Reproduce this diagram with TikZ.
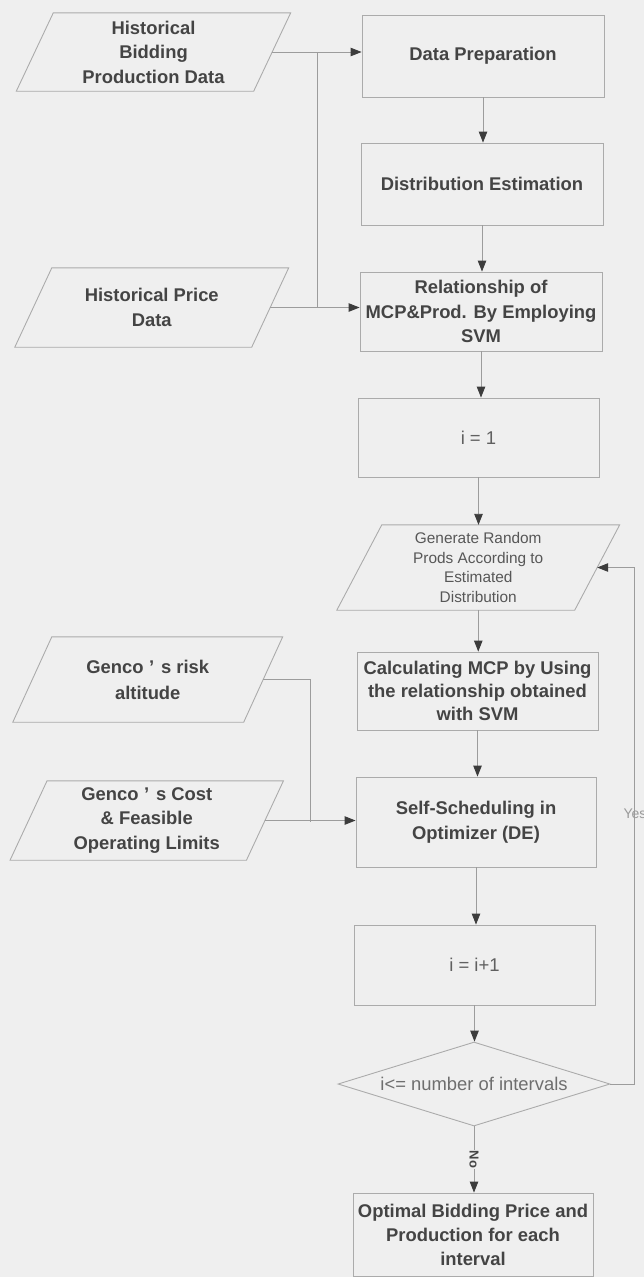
\documentclass[tikz,border=0pt]{standalone}
\usepackage{fontspec}
\setmainfont{Liberation Sans}
\usetikzlibrary{arrows.meta,shapes.geometric,calc}

\definecolor{paper}{HTML}{EFEFEF}
\definecolor{boxc}{HTML}{ABABAB}
\definecolor{linec}{HTML}{9C9C9C}
\definecolor{tipc}{HTML}{3C3C3C}
\definecolor{txt}{HTML}{444444}
\definecolor{softtxt}{HTML}{6E6E6E}
\definecolor{yesc}{HTML}{9A9A9A}

% outline of a slanted input box around a named rectangle node
\newcommand\slantbox[2]{%
  \draw[boxline] ($(#1.north west)+(#2,0)$) -- ($(#1.north east)+(#2,0)$)
    -- ($(#1.south east)-(#2,0)$) -- ($(#1.south west)-(#2,0)$) -- cycle;}

% full-width apostrophe
\newcommand\fwq{\makebox[0.95em][l]{\hspace{0.3em}’}}

\begin{document}
\begin{tikzpicture}[x=1pt,y=-1pt,
  boxline/.style={draw=boxc, line width=0.9pt},
  mainfont/.style={font=\bfseries\fontsize{18.4}{24.5}\selectfont, text=txt},
  box/.style={rectangle, boxline, inner sep=0pt, align=center, mainfont},
  slanted/.style={rectangle, draw=none, inner sep=0pt, align=center, mainfont},
  conn/.style={draw=linec, line width=0.9pt},
  >={Triangle[length=11pt,width=8.5pt,color=tipc]}]

\fill[paper] (0,0) rectangle (644,1277);
\useasboundingbox (0,0) rectangle (644,1277);

% main column
\node[box, minimum width=242pt, minimum height=82pt] (dp) at (483,56) {Data Preparation};
\node[box, minimum width=242pt, minimum height=82pt] (de) at (482,184) {Distribution Estimation};
\node[box, minimum width=242pt, minimum height=79pt] (rel) at (481,311.5)
  {Relationship of\\MCP\&Prod. By Employing\\SVM};
\node[box, minimum width=241pt, minimum height=79pt,
  font=\fontsize{18.5}{22}\selectfont, text=txt!85] (i1) at (478.5,437.5) {i = 1};
\node[slanted, minimum width=237.5pt, minimum height=85pt,
  font=\fontsize{15.4}{19.7}\selectfont, text=txt!90] (gen) at (478.25,567.5)
  {Generate Random\\Prods According to\\Estimated\\Distribution};
\slantbox{gen}{22.5}
\node[box, minimum width=241pt, minimum height=78pt, font=\bfseries\fontsize{18.4}{23}\selectfont]
  (calc) at (477.5,691) {Calculating MCP by Using\\the relationship obtained\\with SVM};
\node[box, minimum width=240pt, minimum height=90pt] (ss) at (476,822)
  {Self-Scheduling in\\Optimizer (DE)};
\node[box, minimum width=241pt, minimum height=80pt,
  font=\fontsize{18.5}{22}\selectfont, text=txt!85] (inc) at (474.5,965) {i = i+1};
\node[diamond, boxline, inner sep=0pt, aspect=3.2, minimum width=272pt, minimum height=84pt,
  font=\fontsize{18.4}{22}\selectfont, text=softtxt] (dec) at (474,1084) {i<= number of intervals};
\node[box, minimum width=240pt, minimum height=83pt, font=\bfseries\fontsize{18.4}{24}\selectfont]
  (opt) at (473,1234.5) {Optimal Bidding Price and\\Production for each\\interval};

% input data on the left
\node[slanted, minimum width=237pt, minimum height=78pt] (hb) at (153.5,52)
  {Historical\\Bidding\\Production Data};
\slantbox{hb}{18.5}
\node[slanted, minimum width=236.5pt, minimum height=79pt] (hp) at (151.75,307.5)
  {Historical Price\\Data};
\slantbox{hp}{18.5}
\node[slanted, minimum width=230.5pt, minimum height=85pt, font=\bfseries\fontsize{18.4}{26}\selectfont]
  (risk) at (147.75,679.5) {Genco\fwq s risk\\altitude};
\slantbox{risk}{19.5}
\node[slanted, minimum width=236pt, minimum height=79pt] (cost) at (146.75,820.5)
  {Genco\fwq s Cost\\\& Feasible\\Operating Limits};
\slantbox{cost}{18.5}

% main flow, kept vertical
\draw[conn,->] (dp.south) -- (dp.south |- de.north);
\draw[conn,->] (de.south) -- (de.south |- rel.north);
\draw[conn,->] (rel.south) -- (rel.south |- i1.north);
\draw[conn,->] (i1.south) -- (i1.south |- gen.north);
\draw[conn,->] (gen.south) -- (gen.south |- calc.north);
\draw[conn,->] (calc.south) -- (calc.south |- ss.north);
\draw[conn,->] (ss.south) -- (ss.south |- inc.north);
\draw[conn,->] (inc.south) -- (inc.south |- dec.north);
\draw[conn,->] (dec.south) -- node[fill=paper, rotate=-90, inner sep=1pt,
  font=\bfseries\fontsize{13}{14}\selectfont, text=txt] (no) {No} (dec.south |- opt.north);

% historical data feeding the first steps
\draw[conn,->] (hb.east) -- (hb.east -| dp.west);
\draw[conn,->] (hp.east) -- (hp.east -| rel.west);
\coordinate (j1) at (317,52);
\coordinate (j2) at (317,307.5);
\draw[conn] (j1) -- (j2);

% generator data feeding the optimizer
\draw[conn] (risk.east) -| ($(ss.west)+(-45,0)$);
\draw[conn,->] (cost.east) -- (cost.east -| ss.west);

% loop back while intervals remain
\coordinate (loop) at (634,1084);
\draw[conn,->] (dec.east) -- (loop) |- (gen.east);
\node[anchor=west, font=\fontsize{14}{16}\selectfont, text=yesc] (yes) at (620,814) {Yes};

\end{tikzpicture}
\end{document}
